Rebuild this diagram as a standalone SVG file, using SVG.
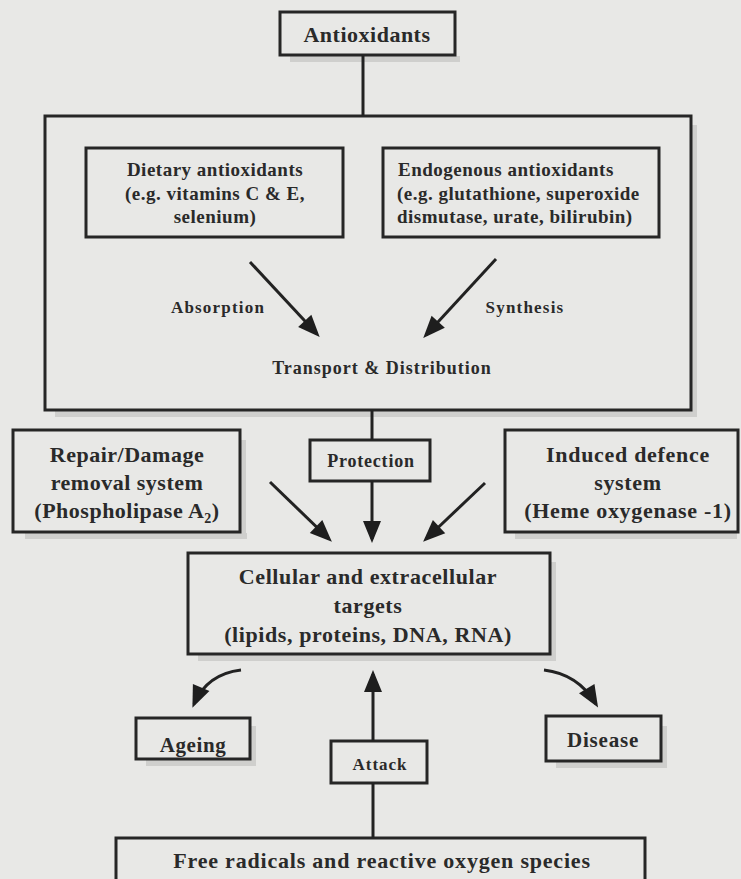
<svg xmlns="http://www.w3.org/2000/svg" width="741" height="879" viewBox="0 0 741 879">
<defs>
<marker id="ah" markerUnits="userSpaceOnUse" markerWidth="24" markerHeight="20" refX="18" refY="9" orient="auto" overflow="visible">
<path d="M0,0 L22,9 L0,18 Z" fill="#1e1e1e"/>
</marker>
</defs>
<style>
.bg{fill:#e8e8e6}
.box{fill:none;stroke:#262626;stroke-width:3}
.sh{fill:#cfcfcd}
.t{font-family:"Liberation Serif","Times New Roman",serif;font-weight:bold;fill:#2a2a2a;text-anchor:middle}
.l{text-anchor:start}
.con{fill:none;stroke:#222;stroke-width:3}
.arr{fill:none;stroke:#222;stroke-width:3;marker-end:url(#ah)}
</style>
<rect class="bg" x="0" y="0" width="741" height="879"/>

<g id="antioxidants">
<rect class="sh" x="290" y="56" width="170" height="6"/>
<rect class="box" x="280" y="12" width="175" height="43"/>
<text class="t" x="367" y="42" font-size="22" letter-spacing="0.5">Antioxidants</text>
</g>

<g id="transport-box">
<rect class="sh" x="55" y="411" width="642" height="6"/>
<rect class="sh" x="692" y="125" width="5" height="292"/>
<rect class="box" x="45" y="116" width="646" height="294"/>
<text class="t" x="382" y="374" font-size="18" letter-spacing="1">Transport &amp; Distribution</text>
</g>

<g id="dietary">
<rect class="box" x="86" y="148" width="257" height="89"/>
<text class="t" font-size="19" letter-spacing="0.5"><tspan x="215" y="176">Dietary antioxidants</tspan><tspan x="215" y="200">(e.g. vitamins C &amp; E,</tspan><tspan x="215" y="223">selenium)</tspan></text>
</g>

<g id="endogenous">
<rect class="box" x="383" y="148" width="276" height="89"/>
<text class="t l" font-size="19" letter-spacing="0.5"><tspan x="398" y="176">Endogenous antioxidants</tspan><tspan x="397" y="200">(e.g. glutathione, superoxide</tspan><tspan x="397" y="223">dismutase, urate, bilirubin)</tspan></text>
</g>

<g id="absorption-label">
<text class="t" x="218" y="313" font-size="17" letter-spacing="1.2">Absorption</text>
</g>
<g id="synthesis-label">
<text class="t" x="525" y="313" font-size="17" letter-spacing="1.2">Synthesis</text>
</g>

<g id="repair">
<rect class="sh" x="25" y="533" width="222" height="6"/>
<rect class="sh" x="241" y="440" width="5" height="99"/>
<rect class="box" x="13" y="430" width="227" height="102"/>
<text class="t" font-size="22" letter-spacing="0.5"><tspan x="127" y="462">Repair/Damage</tspan><tspan x="127" y="490">removal system</tspan><tspan x="127" y="518">(Phospholipase A<tspan font-size="14" dy="5">2</tspan><tspan dy="-5">)</tspan></tspan></text>
</g>

<g id="protection">
<rect class="box" x="310" y="440" width="120" height="41"/>
<text class="t" x="371" y="467" font-size="18" letter-spacing="0.8">Protection</text>
</g>

<g id="induced">
<rect class="sh" x="515" y="533" width="222" height="6"/>
<rect class="box" x="505" y="430" width="233" height="102"/>
<text class="t" font-size="22" letter-spacing="0.7"><tspan x="628" y="462">Induced defence</tspan><tspan x="628" y="490">system</tspan><tspan x="628" y="518">(Heme oxygenase -1)</tspan></text>
</g>

<g id="targets">
<rect class="sh" x="198" y="655" width="358" height="6"/>
<rect class="sh" x="551" y="562" width="5" height="99"/>
<rect class="box" x="188" y="553" width="362" height="101"/>
<text class="t" font-size="22" letter-spacing="0.6"><tspan x="368" y="584">Cellular and extracellular</tspan><tspan x="368" y="613">targets</tspan><tspan x="368" y="642">(lipids, proteins, DNA, RNA)</tspan></text>
</g>

<g id="ageing">
<rect class="sh" x="146" y="760" width="110" height="6"/>
<rect class="sh" x="251" y="726" width="5" height="40"/>
<rect class="box" x="136" y="718" width="114" height="41"/>
<text class="t" x="193" y="752" font-size="21" letter-spacing="0.6">Ageing</text>
</g>

<g id="disease">
<rect class="sh" x="556" y="762" width="110" height="6"/>
<rect class="sh" x="662" y="726" width="5" height="42"/>
<rect class="box" x="546" y="716" width="115" height="45"/>
<text class="t" x="603" y="747" font-size="21" letter-spacing="0.8">Disease</text>
</g>

<g id="attack">
<rect class="box" x="331" y="741" width="96" height="42"/>
<text class="t" x="380" y="770" font-size="17" letter-spacing="1">Attack</text>
</g>

<g id="free-radicals">
<rect class="box" x="116" y="838" width="529" height="60"/>
<text class="t" x="382" y="868" font-size="22" letter-spacing="0.8">Free radicals and reactive oxygen species</text>
</g>

<g id="connectors">
<line class="con" x1="363" y1="55" x2="363" y2="116"/>
<line class="arr" x1="250" y1="262" x2="317" y2="334"/>
<line class="arr" x1="496" y1="259" x2="426" y2="335"/>
<line class="con" x1="372" y1="410" x2="372" y2="440"/>
<line class="arr" x1="372" y1="481" x2="372" y2="539"/>
<line class="arr" x1="270" y1="482" x2="329" y2="539"/>
<line class="arr" x1="485" y1="483" x2="426" y2="539"/>
<path class="arr" d="M241,670 Q207,674 194,704"/>
<path class="arr" d="M544,670 Q578,674 596,704"/>
<line class="arr" x1="373" y1="741" x2="373" y2="674"/>
<line class="con" x1="373" y1="783" x2="373" y2="838"/>
</g>
</svg>
